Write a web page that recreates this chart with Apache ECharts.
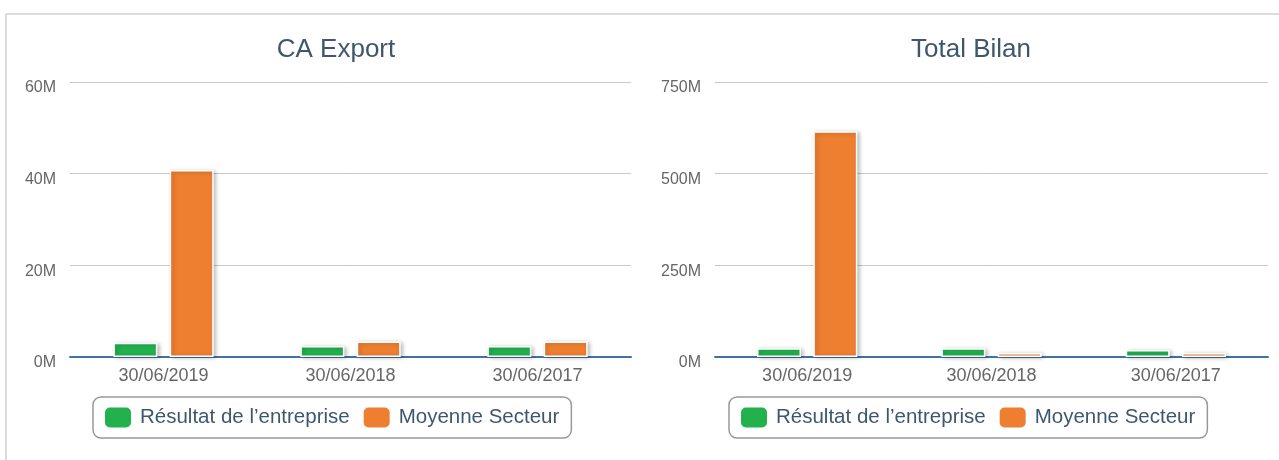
<!DOCTYPE html>
<html>
<head>
    <meta charset="UTF-8">
    <title>CA Export / Total Bilan</title>
    <script src="https://cdn.jsdelivr.net/npm/echarts@6/dist/echarts.min.js"></script>
    <style>
        html, body {
            margin: 0;
            padding: 0;
            background: #fff;
        }
        .frame {
            position: absolute;
            left: 5px;
            top: 13px;
            width: 1400px;
            height: 600px;
            border-top: 2px solid #dcdcdc;
            border-left: 2px solid #dcdcdc;
        }
        #chart {
            position: absolute;
            left: 0;
            top: 0;
            width: 1279px;
            height: 460px;
        }
    </style>
</head>
<body>
<div class="frame"></div>
<div id="chart"></div>

<script>
    // données
    const categories = ['30/06/2019', '30/06/2018', '30/06/2017'];
    const seriesNames = ['Résultat de l\u2019entreprise', 'Moyenne Secteur'];

    // CA Export (en euros)
    const caEntreprise = [3.1e6, 2.4e6, 2.4e6];
    const caSecteur = [40.8e6, 3.4e6, 3.4e6];

    // Total Bilan (en euros)
    const bilanEntreprise = [24e6, 24e6, 19e6];
    const bilanSecteur = [616e6, 11e6, 11e6];

    // graduations
    const caTicks = [0, 20e6, 40e6, 60e6];
    const bilanTicks = [0, 250e6, 500e6, 750e6];

    const titles = ['CA Export', 'Total Bilan'];

    const green = '#23b14d';
    const orange = '#ee7f31';
    const fontFamily = '"Liberation Sans", Arial, Helvetica, sans-serif';

    const chart = echarts.init(document.getElementById('chart'));

    function yAxisFor(index, ticks) {
        return {
            type: 'value',
            gridIndex: index,
            min: ticks[0],
            max: ticks[ticks.length - 1],
            interval: ticks[1] - ticks[0],
            axisLine: { show: false },
            axisTick: { show: false },
            axisLabel: {
                color: '#666',
                fontSize: 16,
                fontFamily: fontFamily,
                margin: 14,
                verticalAlign: 'top',
                lineHeight: 12,
                formatter: v => (v / 1e6) + 'M'
            },
            splitLine: { lineStyle: { color: '#c8c8c8', width: 1 } }
        };
    }

    function xAxisFor(index) {
        return {
            type: 'category',
            gridIndex: index,
            data: categories,
            axisLine: { lineStyle: { color: '#3f73a8', width: 2 } },
            axisTick: { lineStyle: { color: '#c0d0e0' }, length: 6 },
            axisLabel: {
                color: '#666',
                fontSize: 18,
                fontFamily: fontFamily,
                margin: 10
            }
        };
    }

    function barSeries(name, color, data, index) {
        return {
            name: name,
            type: 'bar',
            xAxisIndex: index,
            yAxisIndex: index,
            data: data,
            barWidth: 44,
            barGap: '28%',
            itemStyle: {
                color: color,
                borderColor: '#fff',
                borderWidth: 1.5,
                shadowColor: 'rgba(0,0,0,0.25)',
                shadowBlur: 4,
                shadowOffsetX: 2,
                shadowOffsetY: 1
            }
        };
    }

    function legendFor(left) {
        return {
            data: seriesNames,
            left: left,
            top: 397,
            orient: 'horizontal',
            icon: 'roundRect',
            itemWidth: 26,
            itemHeight: 20,
            itemGap: 14,
            padding: [10, 12],
            borderColor: '#999',
            borderWidth: 1.5,
            borderRadius: 8,
            selectedMode: false,
            itemStyle: { borderWidth: 0, shadowBlur: 0, shadowOffsetX: 0, shadowOffsetY: 0 },
            textStyle: {
                color: '#3e576f',
                fontSize: 20.5,
                fontFamily: fontFamily,
                padding: [0, 0, 0, 4]
            }
        };
    }

    const option = {
        animation: false,
        color: [green, orange],
        title: [
            {
                text: titles[0],
                left: 331,
                top: 32,
                textAlign: 'center',
                textStyle: { color: '#3e576f', fontSize: 26, fontWeight: 'normal', fontFamily: fontFamily }
            },
            {
                text: titles[1],
                left: 966,
                top: 32,
                textAlign: 'center',
                textStyle: { color: '#3e576f', fontSize: 26, fontWeight: 'normal', fontFamily: fontFamily }
            }
        ],
        legend: [legendFor(93), legendFor(729)],
        grid: [
            { left: 70, right: 648, top: 82, bottom: 103 },
            { left: 715, right: 11, top: 82, bottom: 103 }
        ],
        xAxis: [xAxisFor(0), xAxisFor(1)],
        yAxis: [yAxisFor(0, caTicks), yAxisFor(1, bilanTicks)],
        series: [
            barSeries(seriesNames[0], green, caEntreprise, 0),
            barSeries(seriesNames[1], orange, caSecteur, 0),
            barSeries(seriesNames[0], green, bilanEntreprise, 1),
            barSeries(seriesNames[1], orange, bilanSecteur, 1)
        ]
    };

    chart.setOption(option);
</script>
</body>
</html>
